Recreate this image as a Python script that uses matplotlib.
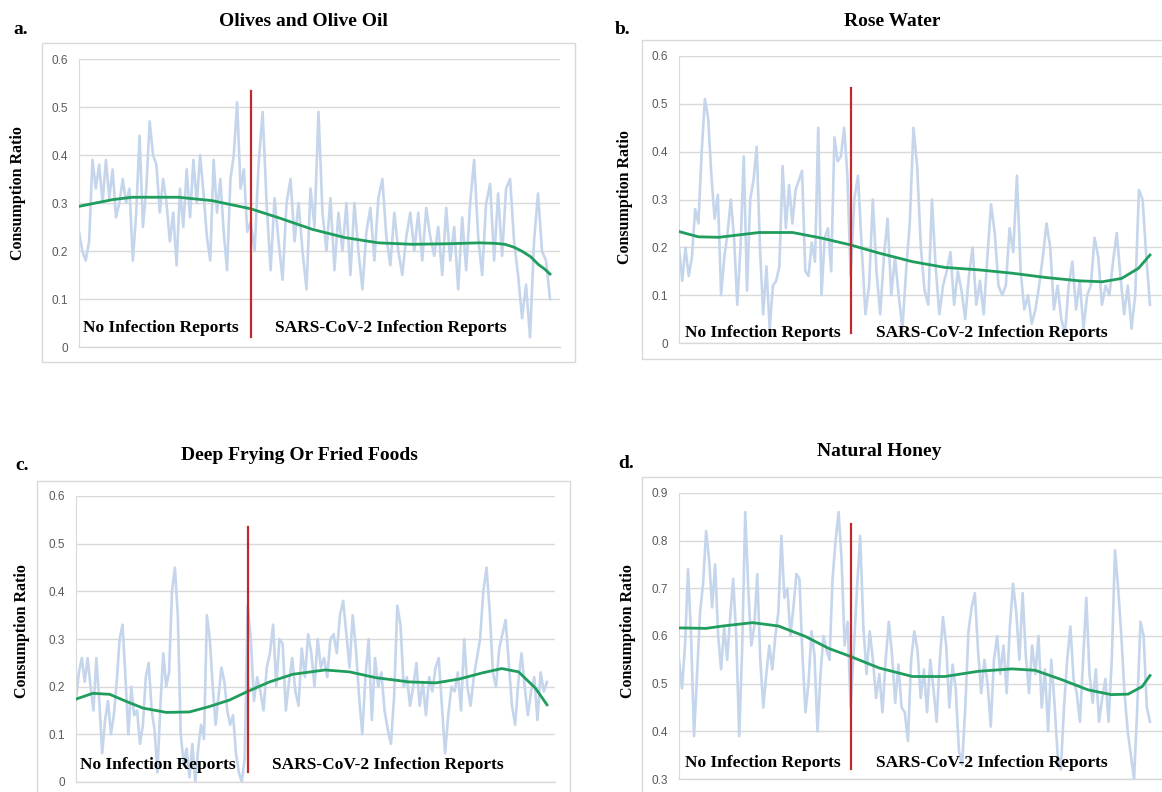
import numpy as np
import matplotlib
matplotlib.use("Agg")
import matplotlib.pyplot as plt
from matplotlib.patches import Rectangle
from matplotlib.ticker import FuncFormatter

W, H = 1162, 792
DAYS = 365
FIRST_REPORT = 133   # day index of the first SARS-CoV-2 infection report

# Data

titles = ["Olives and Olive Oil", "Rose Water", "Deep Frying Or Fried Foods", "Natural Honey"]
letters = ["a.", "b.", "c.", "d."]

olive_pre = [0.24, 0.20, 0.18, 0.22, 0.39, 0.33, 0.38, 0.30, 0.39, 0.31, 0.37, 0.27, 0.30,
             0.35, 0.30, 0.33, 0.18, 0.28, 0.44, 0.25, 0.33, 0.47, 0.40, 0.38, 0.28, 0.35,
             0.30, 0.22, 0.28, 0.17, 0.33, 0.25, 0.37, 0.27, 0.39, 0.30, 0.40, 0.32, 0.23,
             0.18, 0.39, 0.28, 0.35, 0.24, 0.16, 0.35, 0.40, 0.51, 0.33, 0.37, 0.24]
olive_post = [0.26, 0.20, 0.38, 0.49, 0.30, 0.16, 0.31, 0.22, 0.14, 0.30, 0.35, 0.22, 0.30,
              0.20, 0.12, 0.33, 0.25, 0.49, 0.28, 0.20, 0.31, 0.16, 0.28, 0.20, 0.30, 0.15,
              0.30, 0.20, 0.12, 0.24, 0.29, 0.18, 0.31, 0.35, 0.23, 0.17, 0.28, 0.20, 0.15,
              0.23, 0.28, 0.20, 0.28, 0.18, 0.29, 0.23, 0.19, 0.25, 0.15, 0.29, 0.18, 0.25,
              0.12, 0.27, 0.16, 0.30, 0.39, 0.23, 0.15, 0.30, 0.34, 0.18, 0.32, 0.19, 0.33,
              0.35, 0.22, 0.15, 0.06, 0.13, 0.02, 0.22, 0.32, 0.20, 0.18, 0.10]
olive_trend_days = [0, 26, 41, 77, 103, 133, 155, 181, 206, 232, 258, 284, 310, 322, 330,
                    337, 343, 350, 356, 361, 365]
olive_trend = [0.293, 0.307, 0.312, 0.312, 0.305, 0.288, 0.269, 0.245, 0.228, 0.217, 0.214,
               0.215, 0.217, 0.216, 0.214, 0.208, 0.200, 0.188, 0.172, 0.162, 0.152]

rose_pre = [0.20, 0.13, 0.20, 0.14, 0.18, 0.28, 0.25, 0.40, 0.51, 0.47, 0.35, 0.26, 0.31,
            0.10, 0.18, 0.23, 0.30, 0.22, 0.08, 0.20, 0.39, 0.11, 0.30, 0.34, 0.41, 0.20,
            0.06, 0.16, 0.03, 0.12, 0.13, 0.16, 0.37, 0.24, 0.33, 0.25, 0.32, 0.34, 0.36,
            0.15, 0.14, 0.21, 0.17, 0.45, 0.10, 0.22, 0.24, 0.15, 0.43, 0.38, 0.39, 0.45, 0.35]
rose_post = [0.14, 0.30, 0.35, 0.20, 0.06, 0.12, 0.30, 0.15, 0.06, 0.18, 0.26, 0.10, 0.18,
             0.10, 0.03, 0.15, 0.25, 0.45, 0.37, 0.20, 0.11, 0.08, 0.30, 0.16, 0.06, 0.12,
             0.15, 0.19, 0.08, 0.15, 0.11, 0.05, 0.14, 0.20, 0.08, 0.13, 0.06, 0.18, 0.29,
             0.23, 0.12, 0.10, 0.12, 0.24, 0.19, 0.35, 0.15, 0.07, 0.10, 0.04, 0.07, 0.12,
             0.18, 0.25, 0.20, 0.07, 0.12, 0.05, 0.02, 0.12, 0.17, 0.07, 0.13, 0.03, 0.10,
             0.12, 0.22, 0.18, 0.08, 0.12, 0.10, 0.17, 0.23, 0.14, 0.06, 0.12, 0.03, 0.10,
             0.32, 0.30, 0.18, 0.08]
rose_trend_days = [0, 15, 31, 62, 88, 111, 133, 155, 181, 206, 232, 258, 284, 310, 328, 343, 356, 365]
rose_trend = [0.233, 0.222, 0.221, 0.231, 0.231, 0.219, 0.205, 0.188, 0.170, 0.158, 0.153,
              0.146, 0.137, 0.130, 0.128, 0.135, 0.156, 0.184]

fried_pre = [0.17, 0.23, 0.26, 0.21, 0.26, 0.20, 0.15, 0.26, 0.17, 0.06, 0.13, 0.17, 0.10,
             0.14, 0.21, 0.30, 0.33, 0.22, 0.10, 0.20, 0.14, 0.15, 0.08, 0.12, 0.22, 0.25,
             0.15, 0.11, 0.02, 0.16, 0.27, 0.20, 0.23, 0.40, 0.45, 0.35, 0.10, 0.04, 0.07,
             0.01, 0.08, 0.00, 0.07, 0.12, 0.09, 0.35, 0.30, 0.20, 0.12, 0.18, 0.24, 0.21,
             0.15, 0.12, 0.14, 0.06, 0.02, 0.00, 0.05]
fried_post = [0.37, 0.30, 0.17, 0.22, 0.19, 0.15, 0.24, 0.27, 0.33, 0.20, 0.30, 0.29, 0.15,
              0.21, 0.26, 0.19, 0.16, 0.28, 0.22, 0.31, 0.27, 0.20, 0.30, 0.24, 0.26, 0.22,
              0.30, 0.31, 0.27, 0.35, 0.38, 0.31, 0.24, 0.35, 0.28, 0.18, 0.10, 0.22, 0.30,
              0.13, 0.26, 0.20, 0.23, 0.15, 0.11, 0.08, 0.18, 0.37, 0.33, 0.20, 0.22, 0.16,
              0.20, 0.25, 0.16, 0.21, 0.14, 0.22, 0.19, 0.24, 0.26, 0.16, 0.06, 0.14, 0.20,
              0.19, 0.23, 0.15, 0.30, 0.20, 0.16, 0.22, 0.26, 0.30, 0.40, 0.45, 0.36, 0.23,
              0.20, 0.28, 0.31, 0.34, 0.25, 0.16, 0.12, 0.21, 0.27, 0.20, 0.14, 0.19, 0.22,
              0.13, 0.23, 0.19, 0.21]
fried_trend_days = [0, 13, 26, 39, 52, 70, 88, 103, 119, 133, 150, 168, 193, 212, 232, 258,
                    279, 297, 315, 330, 343, 356, 365]
fried_trend = [0.174, 0.186, 0.184, 0.169, 0.155, 0.146, 0.147, 0.158, 0.172, 0.190, 0.210,
               0.226, 0.235, 0.231, 0.219, 0.210, 0.208, 0.216, 0.229, 0.238, 0.231, 0.197, 0.162]

honey_pre = [0.55, 0.49, 0.58, 0.74, 0.60, 0.39, 0.52, 0.65, 0.71, 0.82, 0.76, 0.66, 0.75,
             0.60, 0.53, 0.62, 0.55, 0.64, 0.72, 0.60, 0.39, 0.58, 0.86, 0.70, 0.58, 0.62,
             0.73, 0.55, 0.45, 0.52, 0.58, 0.53, 0.60, 0.65, 0.81, 0.68, 0.70, 0.60, 0.66,
             0.73, 0.72, 0.56, 0.44, 0.50, 0.61, 0.56, 0.40, 0.52, 0.60, 0.57, 0.55, 0.72,
             0.80, 0.86, 0.76, 0.58, 0.63]
honey_post = [0.45, 0.57, 0.70, 0.81, 0.62, 0.52, 0.61, 0.55, 0.47, 0.52, 0.44, 0.55, 0.63,
              0.56, 0.46, 0.54, 0.45, 0.44, 0.38, 0.55, 0.61, 0.57, 0.47, 0.53, 0.44, 0.55,
              0.49, 0.42, 0.55, 0.64, 0.58, 0.45, 0.54, 0.49, 0.36, 0.33, 0.45, 0.61, 0.66,
              0.69, 0.57, 0.48, 0.55, 0.50, 0.41, 0.55, 0.60, 0.52, 0.58, 0.48, 0.62, 0.71,
              0.65, 0.55, 0.69, 0.56, 0.48, 0.58, 0.52, 0.60, 0.45, 0.53, 0.40, 0.55, 0.46,
              0.35, 0.32, 0.45, 0.55, 0.62, 0.51, 0.48, 0.42, 0.55, 0.68, 0.52, 0.46, 0.53,
              0.42, 0.47, 0.51, 0.42, 0.55, 0.78, 0.70, 0.60, 0.48, 0.40, 0.35, 0.30, 0.45,
              0.63, 0.60, 0.45, 0.42]
honey_trend_days = [0, 21, 34, 57, 77, 98, 116, 133, 155, 181, 206, 232, 258, 276, 297, 317,
                    335, 348, 359, 365]
honey_trend = [0.617, 0.616, 0.621, 0.628, 0.621, 0.599, 0.574, 0.557, 0.533, 0.515, 0.515,
               0.526, 0.531, 0.528, 0.508, 0.487, 0.477, 0.478, 0.494, 0.517]

pre_series = [olive_pre, rose_pre, fried_pre, honey_pre]
post_series = [olive_post, rose_post, fried_post, honey_post]
trend_days = [olive_trend_days, rose_trend_days, fried_trend_days, honey_trend_days]
trend_vals = [olive_trend, rose_trend, fried_trend, honey_trend]
y_ranges = [(0.0, 0.6), (0.0, 0.6), (0.0, 0.6), (0.3, 0.9)]

# Layout in pixels: plot area (left, top, right, bottom), chart frame, text anchors

plot_px = [(79, 59, 560, 347), (679, 56, 1169, 343), (76, 496, 555, 782), (679, 493, 1169, 779)]
frame_px = [(42, 43, 575, 362), (642, 40, 1175, 359), (37, 481, 570, 800), (642, 477, 1175, 800)]
title_px = [(303, 22), (892, 22), (299, 455), (879, 452)]
letter_px = [(13, 29), (615, 29), (15, 466), (618, 464)]
ylabel_px = [(18, 193), (625, 197), (22, 631), (628, 631)]
left_text_px = [(83, 328), (685, 333), (80, 765), (685, 763)]
right_text_px = [(275, 328), (876, 333), (272, 765), (876, 763)]
data_width_px = 471

blue = "#c5d6ec"
green = "#1f9d5c"
red = "#c3282c"
grid_c = "#d9d9d9"
serif = "Liberation Serif"

fig = plt.figure(figsize=(W / 100, H / 100), dpi=100)


def fx(x):
    return x / W


def fy(y):
    return 1 - y / H


for i in range(4):
    # chart frame
    l, t, r, b = frame_px[i]
    fig.patches.append(Rectangle((fx(l), fy(b)), fx(r - l), (b - t) / H,
                                 transform=fig.transFigure, fill=False,
                                 edgecolor=grid_c, linewidth=1.0, zorder=0))

    l, t, r, b = plot_px[i]
    ax = fig.add_axes([fx(l), fy(b), fx(r - l), (b - t) / H])
    ax.set_facecolor("none")

    pre = np.array(pre_series[i])
    post = np.array(post_series[i])
    x_pre = np.linspace(0, FIRST_REPORT, len(pre), endpoint=False)
    x_post = np.linspace(FIRST_REPORT, DAYS, len(post))
    x = np.concatenate([x_pre, x_post])
    y = np.concatenate([pre, post])

    ax.plot(x, y, color=blue, linewidth=1.9, zorder=2)
    ax.plot(trend_days[i], trend_vals[i], color=green, linewidth=2.0, zorder=3)
    ax.axvline(FIRST_REPORT, ymin=0.035, ymax=0.89, color=red, linewidth=1.6, zorder=4)

    y0, y1 = y_ranges[i]
    ax.set_ylim(y0, y1)
    ax.set_xlim(0, DAYS * (r - l) / data_width_px)
    ax.set_yticks(np.round(np.arange(y0, y1 + 0.001, 0.1), 1))
    ax.yaxis.set_major_formatter(FuncFormatter(lambda v, p: f"{v:g}"))
    ax.tick_params(axis="y", length=0, pad=8, labelsize=8.5, labelcolor="#595959")
    for lab in ax.get_yticklabels():
        lab.set_fontfamily("Liberation Sans")
    ax.set_xticks([])
    ax.grid(axis="y", color=grid_c, linewidth=1.0, zorder=0)
    ax.axhline(y0, color=grid_c, linewidth=1.0, clip_on=False, zorder=1)
    for side in ["top", "right", "bottom"]:
        ax.spines[side].set_visible(False)
    ax.spines["left"].set_color(grid_c)

    # texts
    tx, ty = title_px[i]
    fig.text(fx(tx), fy(ty), titles[i], ha="center", va="center", fontsize=14,
             fontweight="bold", family=serif)
    lx, ly = letter_px[i]
    fig.text(fx(lx), fy(ly), letters[i], ha="left", va="center", fontsize=14,
             fontweight="bold", family=serif)
    yx, yy = ylabel_px[i]
    fig.text(fx(yx), fy(yy), "Consumption Ratio", ha="center", va="center", rotation=90,
             fontsize=11.5, fontweight="bold", family=serif)
    ax_, ay_ = left_text_px[i]
    fig.text(fx(ax_), fy(ay_), "No Infection Reports", ha="left", va="center",
             fontsize=12.5, fontweight="bold", family=serif)
    bx, by = right_text_px[i]
    fig.text(fx(bx), fy(by), "SARS-CoV-2 Infection Reports", ha="left", va="center",
             fontsize=12.5, fontweight="bold", family=serif)

fig.savefig("out.png", dpi=100)
